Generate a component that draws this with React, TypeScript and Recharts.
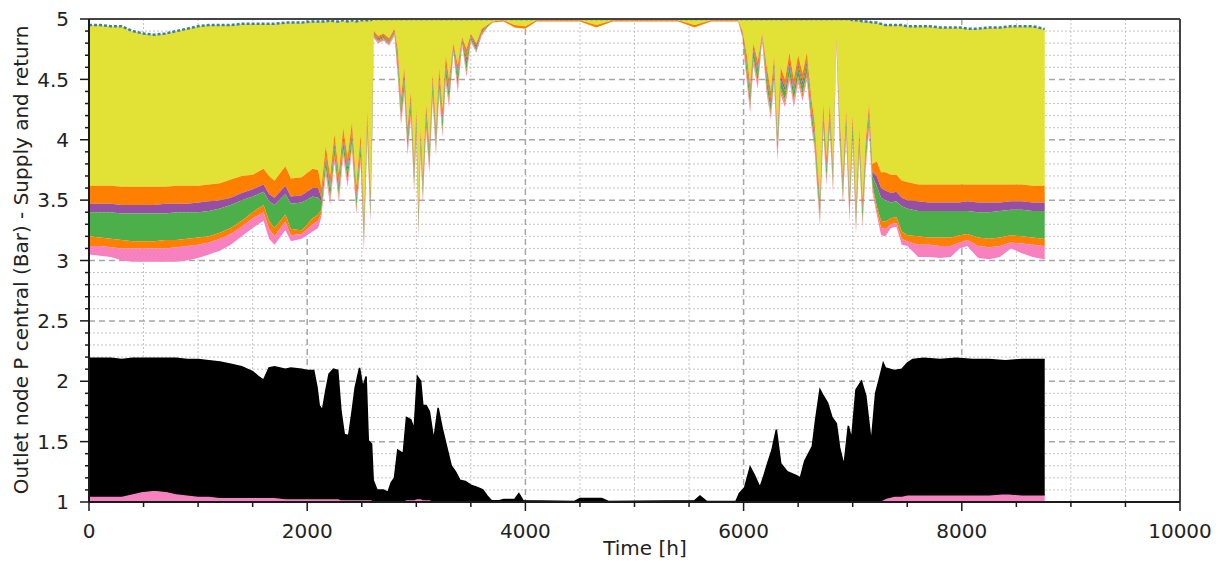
import React from "react";
import {
  Area,
  CartesianGrid,
  ComposedChart,
  Line,
  ReferenceLine,
  XAxis,
  YAxis,
} from "recharts";

// axis ticks / grid positions
const xTicks = [0, 500, 1000, 1500, 2000, 2500, 3000, 3500, 4000, 4500, 5000, 5500, 6000, 6500, 7000, 7500, 8000, 8500, 9000, 9500, 10000];
const yTicks = [1, 1.1, 1.2, 1.3, 1.4, 1.5, 1.6, 1.7, 1.8, 1.9, 2, 2.1, 2.2, 2.3, 2.4, 2.5, 2.6, 2.7, 2.8, 2.9, 3, 3.1, 3.2, 3.3, 3.4, 3.5, 3.6, 3.7, 3.8, 3.9, 4, 4.1, 4.2, 4.3, 4.4, 4.5, 4.6, 4.7, 4.8, 4.9, 5];
const xMinorGrid = [500, 1000, 1500, 2500, 3000, 3500, 4500, 5000, 5500, 6500, 7000, 7500, 8500, 9000, 9500];
const xMajorGrid = [2000, 4000, 6000, 8000];
const yMinorGrid = [1.1, 1.2, 1.3, 1.4, 1.6, 1.7, 1.8, 1.9, 2.1, 2.2, 2.3, 2.4, 2.6, 2.7, 2.8, 2.9, 3.1, 3.2, 3.3, 3.4, 3.6, 3.7, 3.8, 3.9, 4.1, 4.2, 4.3, 4.4, 4.6, 4.7, 4.8, 4.9];
const yMajorGrid = [1.5, 2, 2.5, 3, 3.5, 4, 4.5];

// supply side (upper band) - hours and band edges
const upHours = [
  0, 100, 200, 300, 400, 500, 600, 700, 800, 900, 1000, 1100, 1200, 1300, 1400, 1500, 1600, 1650, 1700, 1800, 1850, 1950, 2050, 2100,
  2130, 2170, 2210, 2250, 2290, 2330, 2370, 2410, 2450, 2490, 2520, 2550, 2580, 2600,
  2610, 2650, 2700, 2750, 2800, 2830, 2860, 2890, 2920, 2950, 2980, 3000, 3020, 3040, 3060, 3090, 3120, 3150, 3180, 3210, 3240, 3270, 3300, 3340, 3380, 3420, 3460, 3500, 3550, 3600, 3650, 3700,
  3800, 3900, 4000, 4100, 4500, 4650, 4800, 5000, 5400, 5550, 5700, 5950,
  5990, 6030, 6060, 6090, 6130, 6170, 6210, 6250, 6280, 6310, 6340, 6380, 6420, 6460, 6500, 6540, 6580, 6620, 6650, 6680, 6700, 6730, 6760, 6790, 6820, 6850, 6880, 6910, 6940, 6970, 7000, 7030, 7060, 7090, 7120, 7150, 7180,
  7220, 7260, 7300, 7350, 7400, 7450, 7500, 7600, 7700, 7800, 7900, 7980, 8050, 8150, 8250, 8350, 8450, 8550, 8650, 8750, 8760,
];
const upTop = [
  4.95, 4.95, 4.94, 4.94, 4.9, 4.88, 4.87, 4.88, 4.9, 4.92, 4.94, 4.95, 4.95, 4.95, 4.96, 4.96, 4.96, 4.96, 4.96, 4.97, 4.97, 4.97, 4.98, 4.98,
  4.98, 4.98, 4.99, 4.98, 4.98, 4.99, 4.98, 4.99, 4.98, 4.99, 4.99, 4.99, 4.99, 5,
  5, 5, 5, 5, 5, 5, 5, 5, 5, 5, 5, 5, 5, 5, 5, 5, 5, 5, 5, 5, 5, 5, 5, 5, 5, 5, 5, 5, 5, 5, 5, 5,
  5, 5, 5, 5, 5, 5, 5, 5, 5, 5, 5, 5,
  5, 5, 5, 5, 5, 5, 5, 5, 5, 5, 5, 5, 5, 5, 5, 5, 5, 5, 5, 5, 5, 5, 5, 5, 5, 5, 5, 5, 5, 5, 4.99, 4.99, 4.99, 4.98, 4.98, 4.98, 4.97,
  4.97, 4.96, 4.95, 4.95, 4.95, 4.95, 4.94, 4.94, 4.94, 4.93, 4.93, 4.93, 4.92, 4.92, 4.93, 4.93, 4.94, 4.94, 4.94, 4.92, 4.92,
];
const upYellow = [
  3.62, 3.62, 3.62, 3.61, 3.61, 3.61, 3.61, 3.61, 3.62, 3.62, 3.62, 3.63, 3.64, 3.67, 3.7, 3.71, 3.76, 3.7, 3.66, 3.78, 3.68, 3.69, 3.76, 3.75,
  3.6, 3.95, 3.7, 4.05, 3.72, 4.1, 3.85, 4.15, 3.62, 4.05, 3.32, 4.25, 3.55, 4.4,
  4.9, 4.86, 4.88, 4.84, 4.92, 4.75, 4.35, 4.6, 4.1, 4.4, 3.8, 4.25, 3.42, 4.1, 3.7, 4.3, 3.95, 4.55, 4.1, 4.6, 4.25, 4.7, 4.5, 4.8, 4.62, 4.85, 4.75, 4.88, 4.8, 4.92, 4.95, 4.98,
  4.99, 4.95, 4.94, 4.99, 4.99, 4.95, 4.99, 4.99, 4.99, 4.95, 4.99, 4.99,
  4.9, 4.7, 4.45, 4.8, 4.65, 4.88, 4.62, 4.4, 4.7, 4.05, 4.6, 4.5, 4.72, 4.5, 4.7, 4.55, 4.72, 4.35, 4.15, 3.75, 3.52, 4.3, 3.85, 4.3, 3.78, 4.85, 4.2, 3.7, 4.25, 3.55, 4.2, 3.45, 4.1, 3.5, 4.0, 4.3, 3.8,
  3.82, 3.73, 3.73, 3.71, 3.71, 3.66, 3.65, 3.63, 3.63, 3.63, 3.63, 3.63, 3.63, 3.63, 3.63, 3.63, 3.63, 3.63, 3.62, 3.62, 3.62,
];
const upOrange = [
  3.47, 3.47, 3.47, 3.46, 3.46, 3.46, 3.46, 3.47, 3.47, 3.47, 3.48, 3.49, 3.5, 3.52, 3.56, 3.59, 3.63, 3.55, 3.52, 3.62, 3.53, 3.54, 3.6, 3.6,
  3.52, 3.87, 3.62, 3.97, 3.64, 4.02, 3.77, 4.07, 3.54, 3.97, 3.24, 4.17, 3.47, 4.32,
  4.88, 4.84, 4.86, 4.82, 4.9, 4.68, 4.28, 4.53, 4.03, 4.33, 3.73, 4.18, 3.35, 4.03, 3.63, 4.23, 3.88, 4.48, 4.03, 4.53, 4.18, 4.63, 4.43, 4.78, 4.55, 4.83, 4.68, 4.86, 4.78, 4.9, 4.94, 4.97,
  4.98, 4.93, 4.92, 4.98, 4.98, 4.93, 4.98, 4.98, 4.98, 4.93, 4.98, 4.98,
  4.88, 4.63, 4.38, 4.78, 4.58, 4.86, 4.55, 4.33, 4.63, 3.98, 4.53, 4.43, 4.65, 4.43, 4.63, 4.48, 4.65, 4.28, 4.08, 3.68, 3.45, 4.23, 3.78, 4.23, 3.71, 4.83, 4.13, 3.63, 4.18, 3.48, 4.13, 3.38, 4.03, 3.43, 3.93, 4.23, 3.73,
  3.7, 3.6, 3.58, 3.56, 3.57, 3.52, 3.5, 3.49, 3.48, 3.48, 3.48, 3.48, 3.49, 3.48, 3.48, 3.48, 3.49, 3.49, 3.48, 3.48, 3.48,
];
const upPurple = [
  3.4, 3.4, 3.4, 3.39, 3.39, 3.39, 3.39, 3.39, 3.4, 3.4, 3.4, 3.41, 3.43, 3.46, 3.5, 3.53, 3.57, 3.49, 3.46, 3.55, 3.47, 3.48, 3.53, 3.52,
  3.49, 3.84, 3.59, 3.94, 3.61, 3.99, 3.74, 4.04, 3.51, 3.94, 3.21, 4.14, 3.44, 4.29,
  4.87, 4.83, 4.85, 4.81, 4.89, 4.65, 4.25, 4.5, 4.0, 4.3, 3.7, 4.15, 3.32, 4.0, 3.6, 4.2, 3.85, 4.45, 4.0, 4.5, 4.15, 4.6, 4.4, 4.76, 4.52, 4.82, 4.65, 4.85, 4.76, 4.89, 4.94, 4.97,
  4.98, 4.93, 4.92, 4.98, 4.98, 4.93, 4.98, 4.98, 4.98, 4.93, 4.98, 4.98,
  4.87, 4.6, 4.35, 4.75, 4.55, 4.85, 4.52, 4.3, 4.6, 3.95, 4.5, 4.4, 4.62, 4.4, 4.6, 4.45, 4.62, 4.25, 4.05, 3.65, 3.42, 4.2, 3.75, 4.2, 3.68, 4.82, 4.1, 3.6, 4.15, 3.45, 4.1, 3.35, 4.0, 3.4, 3.9, 4.2, 3.7,
  3.62, 3.52, 3.5, 3.48, 3.49, 3.45, 3.43, 3.41, 3.41, 3.41, 3.41, 3.41, 3.41, 3.4, 3.4, 3.41, 3.42, 3.42, 3.41, 3.41, 3.41,
];
const upGreen = [
  3.2, 3.19, 3.18, 3.17, 3.16, 3.16, 3.16, 3.17, 3.17, 3.18, 3.19, 3.2, 3.23, 3.27, 3.33, 3.4, 3.46, 3.33, 3.27, 3.38, 3.26, 3.25, 3.35, 3.38,
  3.42, 3.77, 3.52, 3.87, 3.54, 3.92, 3.67, 3.97, 3.44, 3.87, 3.14, 4.07, 3.37, 4.22,
  4.86, 4.82, 4.84, 4.8, 4.88, 4.58, 4.18, 4.43, 3.93, 4.23, 3.63, 4.08, 3.25, 3.93, 3.53, 4.13, 3.78, 4.38, 3.93, 4.43, 4.08, 4.53, 4.33, 4.74, 4.45, 4.8, 4.58, 4.83, 4.74, 4.88, 4.93, 4.97,
  4.98, 4.93, 4.92, 4.98, 4.98, 4.93, 4.98, 4.98, 4.98, 4.93, 4.98, 4.98,
  4.86, 4.53, 4.28, 4.68, 4.48, 4.84, 4.45, 4.23, 4.53, 3.88, 4.43, 4.33, 4.55, 4.33, 4.53, 4.38, 4.55, 4.18, 3.98, 3.58, 3.35, 4.13, 3.68, 4.13, 3.61, 4.81, 4.03, 3.53, 4.08, 3.38, 4.03, 3.28, 3.93, 3.33, 3.83, 4.13, 3.63,
  3.45, 3.33, 3.32, 3.35, 3.36, 3.24, 3.21, 3.2, 3.19, 3.19, 3.19, 3.21, 3.22, 3.19, 3.18, 3.19, 3.21, 3.2, 3.19, 3.18, 3.18,
];
const upOrange2 = [
  3.12, 3.12, 3.11, 3.1, 3.1, 3.1, 3.1, 3.1, 3.11, 3.12, 3.13, 3.15, 3.18, 3.22, 3.28, 3.35, 3.4, 3.26, 3.2, 3.32, 3.21, 3.22, 3.3, 3.33,
  3.39, 3.74, 3.49, 3.84, 3.51, 3.89, 3.64, 3.94, 3.41, 3.84, 3.11, 4.04, 3.34, 4.19,
  4.85, 4.81, 4.83, 4.79, 4.87, 4.55, 4.15, 4.4, 3.9, 4.2, 3.6, 4.05, 3.22, 3.9, 3.5, 4.1, 3.75, 4.35, 3.9, 4.4, 4.05, 4.5, 4.3, 4.73, 4.42, 4.79, 4.55, 4.82, 4.73, 4.87, 4.93, 4.97,
  4.98, 4.93, 4.92, 4.98, 4.98, 4.93, 4.98, 4.98, 4.98, 4.93, 4.98, 4.98,
  4.85, 4.5, 4.25, 4.65, 4.45, 4.83, 4.42, 4.2, 4.5, 3.85, 4.4, 4.3, 4.52, 4.3, 4.5, 4.35, 4.52, 4.15, 3.95, 3.55, 3.32, 4.1, 3.65, 4.1, 3.58, 4.8, 4.0, 3.5, 4.05, 3.35, 4.0, 3.25, 3.9, 3.3, 3.8, 4.1, 3.6,
  3.41, 3.27, 3.26, 3.3, 3.31, 3.18, 3.16, 3.13, 3.13, 3.12, 3.12, 3.15, 3.17, 3.12, 3.11, 3.12, 3.15, 3.14, 3.13, 3.12, 3.12,
];
const upPink = [
  3.05, 3.04, 3.03, 3.0, 2.99, 2.99, 2.99, 2.99, 2.99, 3.0, 3.02, 3.05, 3.08, 3.13, 3.2, 3.27, 3.33, 3.18, 3.13, 3.25, 3.16, 3.18, 3.24, 3.27,
  3.36, 3.71, 3.46, 3.81, 3.48, 3.86, 3.61, 3.91, 3.38, 3.81, 3.08, 4.01, 3.31, 4.16,
  4.84, 4.8, 4.82, 4.78, 4.86, 4.52, 4.12, 4.37, 3.87, 4.17, 3.57, 4.02, 3.19, 3.87, 3.47, 4.07, 3.72, 4.32, 3.87, 4.37, 4.02, 4.47, 4.27, 4.72, 4.39, 4.78, 4.52, 4.81, 4.72, 4.86, 4.93, 4.97,
  4.98, 4.93, 4.92, 4.98, 4.98, 4.93, 4.98, 4.98, 4.98, 4.93, 4.98, 4.98,
  4.84, 4.47, 4.22, 4.62, 4.42, 4.82, 4.39, 4.17, 4.47, 3.82, 4.37, 4.27, 4.49, 4.27, 4.47, 4.32, 4.49, 4.12, 3.92, 3.52, 3.29, 4.07, 3.62, 4.07, 3.55, 4.79, 3.97, 3.47, 4.02, 3.32, 3.97, 3.22, 3.87, 3.27, 3.77, 4.07, 3.57,
  3.38, 3.21, 3.2, 3.27, 3.28, 3.13, 3.12, 3.03, 3.03, 3.02, 3.03, 3.1, 3.12, 3.02, 3.01, 3.03, 3.1, 3.06, 3.03, 3.01, 3.01,
];

// return side (lower band)
const loHours = [
  0, 100, 200, 300, 400, 500, 600, 700, 800, 900, 1000, 1100, 1200, 1300, 1400, 1500, 1550, 1600, 1650, 1700, 1800, 1850, 1950, 2000, 2060,
  2090, 2110, 2140, 2170, 2200, 2240, 2280, 2310, 2340, 2380, 2410, 2440, 2480, 2510, 2540, 2560, 2590, 2605, 2640, 2700, 2740, 2770,
  2800, 2830, 2880, 2910, 2950, 2980, 3010, 3040, 3060, 3090, 3120, 3160, 3200, 3240, 3280, 3320, 3360, 3400, 3450, 3500, 3560, 3610, 3650, 3690,
  3760, 3800, 3900, 3940, 3980, 4450, 4500, 4700, 4760, 5550, 5600, 5660, 5930,
  5960, 6010, 6060, 6100, 6150, 6180, 6220, 6260, 6300, 6340, 6400, 6480, 6520, 6560, 6630, 6660, 6700, 6730, 6770, 6810, 6850, 6880, 6920, 6960, 6990,
  7030, 7080, 7120, 7170, 7210, 7250, 7280, 7300, 7380, 7450, 7500, 7550, 7650, 7800, 7950, 8100, 8250, 8400, 8550, 8650, 8750, 8760,
];
const loBlackTop = [
  2.19, 2.19, 2.19, 2.18, 2.19, 2.19, 2.19, 2.19, 2.19, 2.18, 2.18, 2.17, 2.16, 2.14, 2.12, 2.08, 2.04, 2.01, 2.11, 2.12, 2.1, 2.11, 2.1, 2.09, 2.09,
  1.95, 1.8, 1.76, 1.92, 2.06, 2.1, 2.09, 1.75, 1.56, 1.55, 1.74, 1.95, 2.11, 1.95, 2.04, 1.51, 1.48, 1.18, 1.1, 1.1, 1.08, 1.16,
  1.2, 1.43, 1.4, 1.7, 1.68, 1.6, 2.04, 2.0, 1.8, 1.8, 1.75, 1.51, 1.78, 1.6, 1.45, 1.3, 1.25, 1.18, 1.17, 1.14, 1.12, 1.1, 1.05, 1.01,
  1.01, 1.02, 1.02, 1.07, 1.01, 1.005, 1.03, 1.03, 1.005, 1.01, 1.05, 1.005, 1.005,
  1.07, 1.12, 1.29, 1.22, 1.12, 1.2, 1.32, 1.43, 1.6, 1.32, 1.25, 1.22, 1.2, 1.34, 1.46, 1.68, 1.93, 1.88, 1.82, 1.7, 1.65, 1.45, 1.3, 1.63, 1.52,
  1.93, 2.0, 1.88, 1.49, 1.9, 2.04, 2.15, 2.11, 2.09, 2.1, 2.15, 2.18, 2.19, 2.18, 2.19, 2.18, 2.18, 2.17, 2.18, 2.18, 2.18, 2.18,
];
const loBlackBottom = [
  1.05, 1.05, 1.05, 1.05, 1.07, 1.09, 1.1, 1.09, 1.07, 1.06, 1.05, 1.05, 1.04, 1.04, 1.04, 1.04, 1.04, 1.04, 1.04, 1.04, 1.03, 1.03, 1.03, 1.03, 1.03,
  1.03, 1.03, 1.03, 1.03, 1.03, 1.03, 1.03, 1.02, 1.02, 1.02, 1.02, 1.02, 1.02, 1.02, 1.02, 1.02, 1.02, 1.01, 1.01, 1.01, 1.01, 1.01,
  1.01, 1.01, 1.01, 1.02, 1.02, 1.02, 1.03, 1.03, 1.02, 1.02, 1.02, 1.01, 1.01, 1.01, 1.01, 1.01, 1.01, 1.01, 1.0, 1.0, 1.0, 1.0, 1.0, 1.0,
  1.0, 1.0, 1.0, 1.0, 1.0, 1.0, 1.0, 1.0, 1.0, 1.0, 1.0, 1.0, 1.0,
  1.0, 1.0, 1.01, 1.01, 1.01, 1.01, 1.01, 1.01, 1.01, 1.01, 1.01, 1.01, 1.01, 1.01, 1.01, 1.01, 1.01, 1.01, 1.01, 1.01, 1.01, 1.01, 1.01, 1.01, 1.01,
  1.01, 1.01, 1.01, 1.01, 1.01, 1.01, 1.02, 1.03, 1.05, 1.05, 1.06, 1.06, 1.06, 1.06, 1.06, 1.06, 1.06, 1.07, 1.06, 1.06, 1.06, 1.06,
];

const upper = upHours.map((h, i) => ({
  h,
  top: upTop[i],
  yel: upYellow[i],
  org: upOrange[i],
  pur: upPurple[i],
  grn: upGreen[i],
  org2: upOrange2[i],
  pnk: upPink[i],
}));
const lower = loHours.map((h, i) => ({ h, top: loBlackTop[i], bot: loBlackBottom[i], base: 1 }));

const FONT = "DejaVu Sans";

const XTick = (props: any) => {
  const { x, y, payload } = props;
  const v = payload.value;
  const major = v % 2000 === 0;
  return (
    <g>
      <line x1={x} x2={x} y1={y} y2={y + (major ? 9 : 5)} stroke="#1a1a1a" strokeWidth={1.5} />
      {major && (
        <text x={x} y={y + 36} textAnchor="middle" fill="#222" fontSize={20} fontFamily={FONT}>
          {v}
        </text>
      )}
    </g>
  );
};

const YTick = (props: any) => {
  const { x, y, payload } = props;
  const v = payload.value;
  const major = Math.abs(v * 2 - Math.round(v * 2)) < 1e-6;
  return (
    <g>
      <line x1={x - (major ? 9 : 4)} x2={x} y1={y} y2={y} stroke="#1a1a1a" strokeWidth={1.5} />
      {major && (
        <text x={x - 20} y={y} dy="0.36em" textAnchor="end" fill="#222" fontSize={20} fontFamily={FONT}>
          {v}
        </text>
      )}
    </g>
  );
};

export default function App() {
  return (
    <ComposedChart width={1205} height={555} margin={{ top: 11, right: 33, bottom: 6, left: 0 }}>
      <CartesianGrid stroke="#c4c4c4" strokeDasharray="2 2" horizontalValues={yMinorGrid} verticalValues={xMinorGrid} />
      <CartesianGrid stroke="#a6a6a6" strokeWidth={1.5} strokeDasharray="6 4" horizontalValues={yMajorGrid} verticalValues={xMajorGrid} />
      <XAxis
        dataKey="h"
        type="number"
        domain={[0, 10000]}
        ticks={xTicks}
        interval={0}
        allowDataOverflow
        height={55}
        tickSize={0}
        tickMargin={0}
        tickLine={false}
        tick={<XTick />}
        axisLine={{ stroke: "#1a1a1a", strokeWidth: 2 }}
        label={{
          content: () => (
            <text x={637} y={547} textAnchor="middle" fill="#222" fontSize={20} fontFamily={FONT}>
              Time [h]
            </text>
          ),
        }}
      />
      <YAxis
        type="number"
        domain={[1, 5]}
        ticks={yTicks}
        interval={0}
        allowDataOverflow
        width={81}
        tickSize={0}
        tickMargin={0}
        tickLine={false}
        tick={<YTick />}
        axisLine={{ stroke: "#1a1a1a", strokeWidth: 2 }}
        label={{
          content: () => (
            <text
              x={14}
              y={252}
              transform="rotate(-90 14 252)"
              textAnchor="middle"
              dominantBaseline="middle"
              fill="#222"
              fontSize={20}
              fontFamily={FONT}
            >
              Outlet node P central (Bar) - Supply and return
            </text>
          ),
        }}
      />

      {/* supply pressures */}
      <Area data={upper} dataKey={(d: any) => [d.yel, d.top]} type="linear" fill="#e2e236" fillOpacity={1} stroke="none" isAnimationActive={false} />
      <Area data={upper} dataKey={(d: any) => [d.org, d.yel]} type="linear" fill="#ff7f00" fillOpacity={1} stroke="none" isAnimationActive={false} />
      <Area data={upper} dataKey={(d: any) => [d.pur, d.org]} type="linear" fill="#984ea3" fillOpacity={1} stroke="none" isAnimationActive={false} />
      <Area data={upper} dataKey={(d: any) => [d.grn, d.pur]} type="linear" fill="#4daf4a" fillOpacity={1} stroke="none" isAnimationActive={false} />
      <Area data={upper} dataKey={(d: any) => [d.org2, d.grn]} type="linear" fill="#ff7f00" fillOpacity={1} stroke="none" isAnimationActive={false} />
      <Area data={upper} dataKey={(d: any) => [d.pnk, d.org2]} type="linear" fill="#f781bf" fillOpacity={1} stroke="none" isAnimationActive={false} />
      <Line data={upper} dataKey="top" type="linear" stroke="#377eb8" strokeWidth={2.5} strokeDasharray="3 2" dot={false} isAnimationActive={false} />

      {/* return pressures */}
      <Area data={lower} dataKey={(d: any) => [d.base, d.bot]} type="linear" fill="#f781bf" fillOpacity={1} stroke="none" isAnimationActive={false} />
      <Area data={lower} dataKey={(d: any) => [d.bot, d.top]} type="linear" fill="#000" fillOpacity={1} stroke="#000" strokeWidth={1.5} isAnimationActive={false} />

      <ReferenceLine y={5} stroke="#444" strokeWidth={2} />
      <ReferenceLine x={10000} stroke="#444" strokeWidth={2} />
    </ComposedChart>
  );
}
